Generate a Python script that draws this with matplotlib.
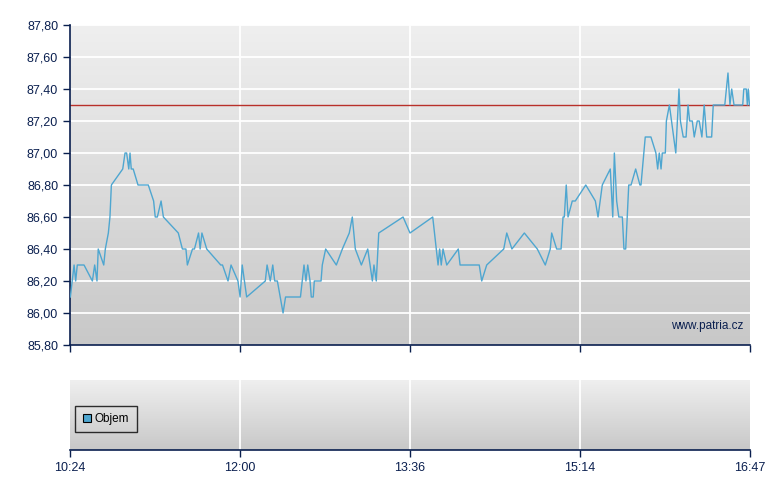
import matplotlib
matplotlib.use("Agg")
import matplotlib.pyplot as plt
import numpy as np
from matplotlib.patches import Patch
from matplotlib.ticker import FuncFormatter

# minutes since 10:24 and price
minuty = [0.2, 2.3, 3.2, 4.1, 7.9, 12.6, 13.9, 15.2, 15.9, 19.0, 19.9, 21.6, 22.5, 23.3,
          29.7, 31.0, 31.9, 33.1, 33.8, 34.5, 35.6, 38.3, 44.1, 47.1, 48.0, 49.2, 51.3,
          52.6, 61.0, 63.3, 65.3, 66.1, 69.0, 70.1, 72.4, 73.3, 74.3, 77.0, 84.9, 85.9,
          89.0, 90.7, 94.6, 95.8, 97.0, 99.5, 110.0, 111.0, 112.8, 114.2, 115.3, 116.8,
          120.0, 121.4, 129.8, 131.8, 132.9, 133.9, 135.2, 135.9, 137.0, 137.6, 141.4,
          142.1, 144.0, 150.0, 153.4, 157.3, 159.0, 160.7, 164.1, 167.7, 170.3, 171.2,
          172.5, 173.9, 187.6, 191.5, 204.3, 207.3, 208.2, 209.1, 210.1, 212.2, 218.7,
          219.7, 230.5, 231.9, 234.7, 244.3, 246.0, 248.9, 255.9, 263.2, 267.7, 270.5,
          271.3, 274.1, 276.6, 277.7, 278.4, 279.5, 280.5, 282.9, 284.6, 290.5, 295.9,
          297.4, 299.8, 304.3, 305.7, 306.6, 307.5, 307.9, 309.1, 311.1, 312.0, 313.0,
          314.7, 316.0, 318.6, 321.0, 321.6, 324.0, 327.2, 330.0, 331.0, 331.9, 332.9,
          333.6, 335.3, 335.9, 337.6, 341.2, 343.0, 343.8, 345.4, 347.0, 348.1, 349.0,
          350.5, 351.6, 353.3, 354.4, 355.9, 357.2, 358.6, 361.4, 362.3, 368.8, 370.6,
          371.7, 372.7, 374.0, 378.9, 379.5, 380.9, 381.5, 382.0, 382.7]
ceny = [86.1, 86.3, 86.2, 86.3, 86.3, 86.2, 86.3, 86.2, 86.4, 86.3, 86.4, 86.5, 86.6, 86.8,
        86.9, 87.0, 87.0, 86.9, 87.0, 86.9, 86.9, 86.8, 86.8, 86.7, 86.6, 86.6, 86.7,
        86.6, 86.5, 86.4, 86.4, 86.3, 86.4, 86.4, 86.5, 86.4, 86.5, 86.4, 86.3, 86.3,
        86.2, 86.3, 86.2, 86.1, 86.3, 86.1, 86.2, 86.3, 86.2, 86.3, 86.2, 86.2,
        86.0, 86.1, 86.1, 86.3, 86.2, 86.3, 86.2, 86.1, 86.1, 86.2, 86.2,
        86.3, 86.4, 86.3, 86.4, 86.5, 86.6, 86.4, 86.3, 86.4, 86.2, 86.3,
        86.2, 86.5, 86.6, 86.5, 86.6, 86.3, 86.4, 86.3, 86.4, 86.3, 86.4,
        86.3, 86.3, 86.2, 86.3, 86.4, 86.5, 86.4, 86.5, 86.4, 86.3, 86.4,
        86.5, 86.4, 86.4, 86.6, 86.6, 86.8, 86.6, 86.7, 86.7, 86.8, 86.7,
        86.6, 86.8, 86.9, 86.6, 87.0, 86.8, 86.7, 86.6, 86.6, 86.4, 86.4,
        86.8, 86.8, 86.9, 86.8, 86.8, 87.1, 87.1, 87.0, 86.9, 87.0, 86.9,
        87.0, 87.0, 87.2, 87.3, 87.0, 87.4, 87.2, 87.1, 87.1, 87.3, 87.2,
        87.2, 87.1, 87.2, 87.2, 87.1, 87.3, 87.1, 87.1, 87.3, 87.3, 87.5,
        87.3, 87.4, 87.3, 87.3, 87.4, 87.4, 87.3, 87.4, 87.3]
predchozi = 87.30
casy = ["10:24", "12:00", "13:36", "15:14", "16:47"]

navy = "#0a1f4f"
modra = "#4ea6d0"
plt.rcParams['font.family'] = ['Liberation Sans', 'DejaVu Sans']

fig = plt.figure(figsize=(7.8, 4.9), dpi=100)
ax = fig.add_axes([70 / 780, 1 - 345 / 490, 680 / 780, 320 / 490])
ax2 = fig.add_axes([70 / 780, 1 - 450 / 490, 680 / 780, 70 / 490])

xmax = 383
pozice = np.linspace(0, xmax, len(casy))
grad = np.linspace(0, 1, 256).reshape(-1, 1)
cmap = matplotlib.colors.LinearSegmentedColormap.from_list('g', ['#efefef', '#c8c8c8'])

for a in (ax, ax2):
    a.imshow(grad, aspect='auto', cmap=cmap, extent=(0, 1, 0, 1),
             transform=a.transAxes, zorder=0)
    a.set_xlim(0, xmax)
    a.set_xticks(pozice)
    for p in pozice[1:-1]:
        a.axvline(p, color='white', lw=1.3, zorder=1)
    for s in ('top', 'right'):
        a.spines[s].set_visible(False)
    a.spines['bottom'].set_color(navy)
    a.spines['bottom'].set_linewidth(1.2)
    a.tick_params(axis='x', colors=navy, length=5, width=1, labelsize=9)

ax.set_ylim(85.8, 87.8)
ax.set_yticks(np.arange(85.8, 87.81, 0.2))
ax.yaxis.set_major_formatter(FuncFormatter(lambda v, p: f"{v:.2f}".replace('.', ',')))
for v in np.arange(86.0, 87.81, 0.2):
    ax.axhline(v, color='white', lw=1.3, zorder=1)
ax.spines['left'].set_color(navy)
ax.spines['left'].set_linewidth(1.2)
ax.tick_params(axis='y', colors=navy, length=5, width=1, labelsize=9)
ax.set_xticklabels([])

ax.axhline(predchozi, color='#b8302a', lw=1, zorder=2)
ax.plot(minuty, ceny, color=modra, lw=1, zorder=3)
ax.text(0.99, 0.06, "www.patria.cz", transform=ax.transAxes, ha='right', va='center',
        color=navy, fontsize=8.5)

ax2.spines['left'].set_visible(False)
ax2.set_yticks([])
ax2.set_ylim(0, 1)
ax2.set_xticklabels(casy)
leg = ax2.legend(handles=[Patch(facecolor=modra, edgecolor='black', lw=0.8, label='Objem')],
                 loc='center left', bbox_to_anchor=(0.008, 0.44), fontsize=8.5,
                 frameon=True, fancybox=False, edgecolor='black',
                 handlelength=0.75, handleheight=0.75, handletextpad=0.3,
                 borderpad=0.6, borderaxespad=0)
leg.get_frame().set_facecolor('none')
leg.get_frame().set_linewidth(1)

fig.savefig("out.png", dpi=100)
